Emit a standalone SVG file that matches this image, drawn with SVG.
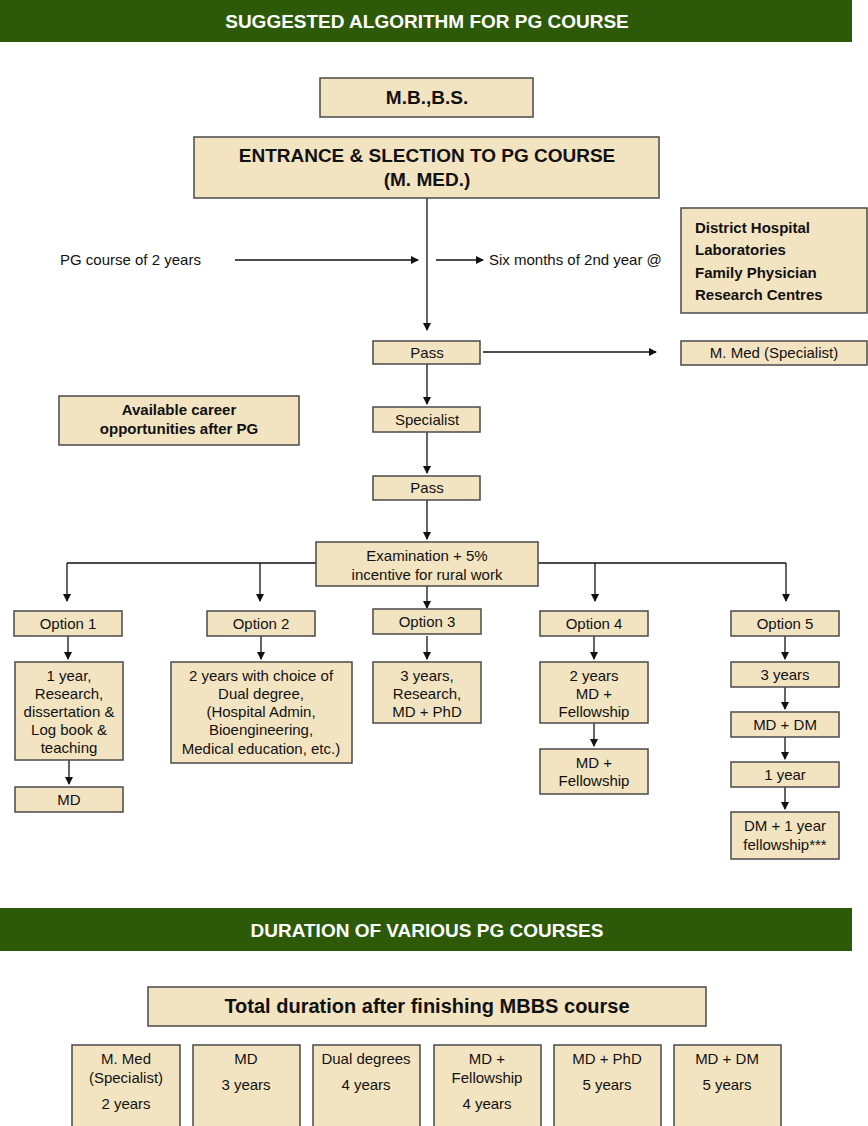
<svg xmlns="http://www.w3.org/2000/svg" width="868" height="1126" viewBox="0 0 868 1126">
<style>
.b{fill:#f3e4c1;stroke:#4a4a4a;stroke-width:1.5}
.bar{fill:#2d5a08}
text{font-family:"Liberation Sans",Arial,sans-serif;font-size:15px;fill:#111;text-anchor:middle}
.h{fill:#fff;font-weight:bold;font-size:19px}
.bd{font-weight:bold}
.l{text-anchor:start}
.c{stroke:#111;stroke-width:1.3;fill:none}
</style>
<defs><marker id="a" markerWidth="8" markerHeight="8" refX="7" refY="4" orient="auto" markerUnits="userSpaceOnUse"><path d="M0,0L8,4L0,8z" fill="#111"/></marker></defs>
<rect class="bar" x="0" y="0" width="852" height="42"/>
<text class="h" x="427" y="28">SUGGESTED ALGORITHM FOR PG COURSE</text>
<rect class="bar" x="0" y="908" width="852" height="43"/>
<text class="h" x="427" y="937">DURATION OF VARIOUS PG COURSES</text>
<g id="connectors">
<path class="c" marker-end="url(#a)" d="M427,198V330"/>
<path class="c" marker-end="url(#a)" d="M235,260H418"/>
<path class="c" marker-end="url(#a)" d="M436,260H483"/>
<path class="c" marker-end="url(#a)" d="M483,352H656"/>
<path class="c" marker-end="url(#a)" d="M427,364V404"/>
<path class="c" marker-end="url(#a)" d="M427,432V473"/>
<path class="c" marker-end="url(#a)" d="M427,500V539"/>
<path class="c" d="M316,563H67M538,563H786"/>
<path class="c" marker-end="url(#a)" d="M67,563V601"/>
<path class="c" marker-end="url(#a)" d="M260,563V601"/>
<path class="c" marker-end="url(#a)" d="M427,586V608"/>
<path class="c" marker-end="url(#a)" d="M595,563V601"/>
<path class="c" marker-end="url(#a)" d="M786,563V601"/>
<path class="c" marker-end="url(#a)" d="M68,636V659"/>
<path class="c" marker-end="url(#a)" d="M261,636V659"/>
<path class="c" marker-end="url(#a)" d="M427,636V659"/>
<path class="c" marker-end="url(#a)" d="M594,636V659"/>
<path class="c" marker-end="url(#a)" d="M785,636V659"/>
<path class="c" marker-end="url(#a)" d="M69,760V784"/>
<path class="c" marker-end="url(#a)" d="M594,723V746"/>
<path class="c" marker-end="url(#a)" d="M785,687V709"/>
<path class="c" marker-end="url(#a)" d="M785,737V759"/>
<path class="c" marker-end="url(#a)" d="M785,787V809"/>
</g>
<text class="l" x="60" y="265">PG course of 2 years</text>
<text class="l" x="489" y="265">Six months of 2nd year @</text>
<g id="mbbs"><rect class="b" x="320" y="78" width="213" height="39"/><text class="bd" x="427" y="104" style="font-size:19px">M.B.,B.S.</text></g>
<g id="entrance"><rect class="b" x="194" y="137" width="465" height="61"/><text class="bd" x="427" y="162" style="font-size:19px">ENTRANCE &amp; SLECTION TO PG COURSE</text><text class="bd" x="427" y="186" style="font-size:19px">(M. MED.)</text></g>
<g id="district"><rect class="b" x="681" y="208" width="186" height="105"/><text class="bd l" x="695" y="233">District Hospital</text><text class="bd l" x="695" y="255">Laboratories</text><text class="bd l" x="695" y="278">Family Physician</text><text class="bd l" x="695" y="300">Research Centres</text></g>
<g id="pass1"><rect class="b" x="373" y="341" width="107" height="23"/><text x="427" y="358">Pass</text></g>
<g id="mmed"><rect class="b" x="681" y="341" width="186" height="24"/><text x="774" y="358">M. Med (Specialist)</text></g>
<g id="career"><rect class="b" x="59" y="396" width="240" height="49"/><text class="bd" x="179" y="415">Available career</text><text class="bd" x="179" y="434">opportunities after PG</text></g>
<g id="specialist"><rect class="b" x="373" y="407" width="107" height="25"/><text x="427" y="425">Specialist</text></g>
<g id="pass2"><rect class="b" x="373" y="476" width="107" height="24"/><text x="427" y="493">Pass</text></g>
<g id="exam"><rect class="b" x="316" y="542" width="222" height="44"/><text x="427" y="561">Examination + 5%</text><text x="427" y="580">incentive for rural work</text></g>
<g id="opt1"><rect class="b" x="14" y="611" width="108" height="25"/><text x="68" y="629">Option 1</text></g>
<g id="opt2"><rect class="b" x="207" y="611" width="108" height="25"/><text x="261" y="629">Option 2</text></g>
<g id="opt3"><rect class="b" x="373" y="609" width="108" height="25"/><text x="427" y="627">Option 3</text></g>
<g id="opt4"><rect class="b" x="540" y="611" width="108" height="25"/><text x="594" y="629">Option 4</text></g>
<g id="opt5"><rect class="b" x="731" y="611" width="108" height="25"/><text x="785" y="629">Option 5</text></g>
<g id="o1a"><rect class="b" x="15" y="662" width="108" height="98"/><text x="69" y="681">1 year,</text><text x="69" y="699">Research,</text><text x="69" y="717">dissertation &amp;</text><text x="69" y="735">Log book &amp;</text><text x="69" y="753">teaching</text></g>
<g id="o1b"><rect class="b" x="15" y="787" width="108" height="25"/><text x="69" y="805">MD</text></g>
<g id="o2a"><rect class="b" x="171" y="662" width="181" height="101"/><text x="261" y="681">2 years with choice of</text><text x="261" y="699">Dual degree,</text><text x="261" y="717">(Hospital Admin,</text><text x="261" y="735">Bioengineering,</text><text x="261" y="754">Medical education, etc.)</text></g>
<g id="o3a"><rect class="b" x="373" y="662" width="108" height="61"/><text x="427" y="681">3 years,</text><text x="427" y="699">Research,</text><text x="427" y="717">MD + PhD</text></g>
<g id="o4a"><rect class="b" x="540" y="662" width="108" height="61"/><text x="594" y="681">2 years</text><text x="594" y="699">MD +</text><text x="594" y="717">Fellowship</text></g>
<g id="o4b"><rect class="b" x="540" y="749" width="108" height="45"/><text x="594" y="768">MD +</text><text x="594" y="786">Fellowship</text></g>
<g id="o5a"><rect class="b" x="731" y="662" width="108" height="25"/><text x="785" y="680">3 years</text></g>
<g id="o5b"><rect class="b" x="731" y="712" width="108" height="25"/><text x="785" y="730">MD + DM</text></g>
<g id="o5c"><rect class="b" x="731" y="762" width="108" height="25"/><text x="785" y="780">1 year</text></g>
<g id="o5d"><rect class="b" x="731" y="812" width="108" height="47"/><text x="785" y="831">DM + 1 year</text><text x="785" y="850">fellowship***</text></g>
<g id="total"><rect class="b" x="148" y="987" width="558" height="39"/><text class="bd" x="427" y="1013" style="font-size:20px">Total duration after finishing MBBS course</text></g>
<g id="d1"><rect class="b" x="72" y="1045" width="108" height="84"/><text x="126" y="1064">M. Med</text><text x="126" y="1083">(Specialist)</text><text x="126" y="1109">2 years</text></g>
<g id="d2"><rect class="b" x="193" y="1045" width="107" height="84"/><text x="246" y="1064">MD</text><text x="246" y="1090">3 years</text></g>
<g id="d3"><rect class="b" x="313" y="1045" width="107" height="84"/><text x="366" y="1064">Dual degrees</text><text x="366" y="1090">4 years</text></g>
<g id="d4"><rect class="b" x="434" y="1045" width="107" height="84"/><text x="487" y="1064">MD +</text><text x="487" y="1083">Fellowship</text><text x="487" y="1109">4 years</text></g>
<g id="d5"><rect class="b" x="554" y="1045" width="107" height="84"/><text x="607" y="1064">MD + PhD</text><text x="607" y="1090">5 years</text></g>
<g id="d6"><rect class="b" x="674" y="1045" width="107" height="84"/><text x="727" y="1064">MD + DM</text><text x="727" y="1090">5 years</text></g>
</svg>
